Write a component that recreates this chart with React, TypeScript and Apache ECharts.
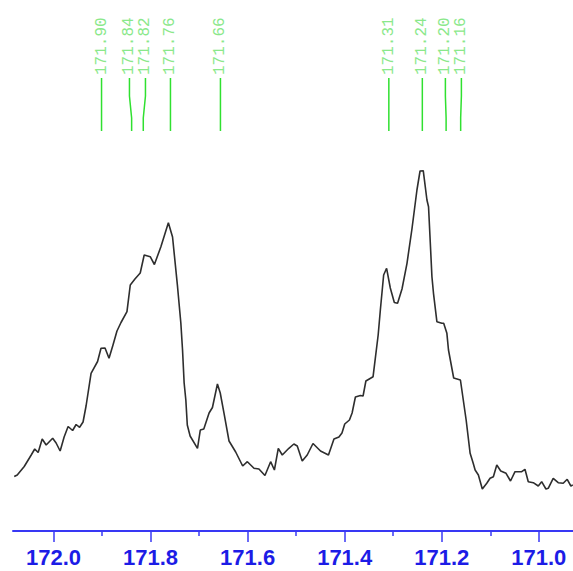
import React, { useEffect, useRef } from "react";
import * as echarts from "echarts";

// Chemical shift (ppm) and intensity (arbitrary units)
const shifts = [
  172.0809, 172.0747, 172.0603, 172.0459, 172.0387, 172.0316, 172.0233, 172.0151, 172.0017, 171.9946,
  171.9863, 171.9781, 171.9699, 171.9606, 171.9534, 171.9462, 171.9391, 171.9329, 171.9226, 171.9092,
  171.9021, 171.8938, 171.8856, 171.8774, 171.8692, 171.8609, 171.8486, 171.8418, 171.8322, 171.8213,
  171.8131, 171.8007, 171.7921, 171.7787, 171.7633, 171.7547, 171.7444, 171.7376, 171.7341, 171.7308,
  171.7273, 171.7243, 171.7185, 171.7033, 171.6975, 171.6903, 171.6794, 171.6725, 171.6622, 171.6564,
  171.6486, 171.6383, 171.6246, 171.6102, 171.6005, 171.5869, 171.5767, 171.5643, 171.5526, 171.5448,
  171.5368, 171.5286, 171.515, 171.5047, 171.4977, 171.4875, 171.4772, 171.4653, 171.4498, 171.4334,
  171.4221, 171.4118, 171.4056, 171.3999, 171.3902, 171.3847, 171.3779, 171.3676, 171.3621, 171.3563,
  171.3415, 171.331, 171.3265, 171.3197, 171.3136, 171.306, 171.2977, 171.291, 171.2819, 171.2716,
  171.2614, 171.2511, 171.2447, 171.2381, 171.2305, 171.2272, 171.2202, 171.217, 171.21, 171.1997,
  171.196, 171.1894, 171.1861, 171.1754, 171.1615, 171.1497, 171.1415, 171.1353, 171.1312, 171.1245,
  171.1164, 171.1072, 171.1004, 171.0936, 171.0866, 171.0784, 171.0675, 171.0583, 171.049, 171.0352,
  171.0285, 171.0217, 171.0114, 171.0011, 170.9941, 170.9853, 170.9806, 170.9703, 170.96, 170.9497,
  170.9415, 170.9339, 170.9298,
];
const intensities = [
  54.5, 56, 64.5, 76, 82, 78.5, 92, 86, 92.7, 88,
  80, 94, 104.5, 100.5, 106.5, 103.7, 109, 125, 157.7, 169.5,
  182.7, 183, 172.7, 186, 200, 208.5, 219.3, 246, 252, 258,
  276, 274.3, 266.5, 284.3, 308.3, 294, 244.3, 208, 181, 148,
  131, 106, 95, 82.7, 101, 102, 118, 123.5, 147, 138,
  117.7, 90, 79, 65, 69.3, 62.7, 62, 55.5, 69.3, 61,
  82.7, 76, 82.7, 87, 85, 70, 76, 87.5, 80, 76,
  92, 94, 98, 107, 111, 118, 134, 135.5, 135, 150,
  154.3, 196, 221, 256, 262.7, 243, 228.5, 227.7, 242, 267.7,
  302, 341, 360, 360.3, 331, 324.3, 254.3, 237.7, 209.3, 207.7,
  207.7, 197.7, 181, 153, 151, 111, 77.7, 68, 61, 56,
  42, 47.7, 52.7, 54.3, 66, 60, 57.7, 50, 59.3, 59.3,
  61.7, 49.3, 48.3, 45, 49.3, 42, 42.7, 52.7, 48.3, 47.7,
  51.7, 45, 46,
];

// Picked peaks
const peakShifts = [171.901, 171.839, 171.815, 171.759, 171.656, 171.309, 171.24, 171.191, 171.161];
const peakLabels = ["171.90", "171.84", "171.82", "171.76", "171.66", "171.31", "171.24", "171.20", "171.16"];

// Axis ticks
const majorTicks = [171.0, 171.2, 171.4, 171.6, 171.8, 172.0];
const minorTicks = [171.1, 171.3, 171.5, 171.7, 171.9];

const X_MIN = 170.92953;
const X_MAX = 172.08345;

function spread(xs: number[], gap: number): number[] {
  const groups: number[][] = [];
  xs.forEach((x, i) => {
    const g = groups[groups.length - 1];
    if (g && x - xs[g[g.length - 1]] < gap) g.push(i);
    else groups.push([i]);
  });
  const out = xs.slice();
  groups.forEach((g) => {
    const mean = g.reduce((a, i) => a + xs[i], 0) / g.length;
    g.forEach((i, k) => {
      out[i] = mean + (k - (g.length - 1) / 2) * gap;
    });
  });
  return out;
}

export default function App() {
  const ref = useRef<HTMLDivElement>(null);
  useEffect(() => {
    if (!ref.current) return;
    const chart = echarts.init(ref.current, undefined, { renderer: "svg" });
    const axisBlue = "#3838f4";
    const option: any = {
      animation: false,
      backgroundColor: "#ffffff",
      grid: { left: 13, right: 0, top: 0, bottom: 40 },
      xAxis: [
        {
          type: "value",
          min: X_MIN,
          max: X_MAX,
          inverse: true,
          position: "bottom",
          axisLine: { lineStyle: { color: axisBlue, width: 2 } },
          axisTick: { customValues: majorTicks, length: 11, lineStyle: { color: axisBlue, width: 1.5 } },
          axisLabel: {
            customValues: majorTicks,
            formatter: (v: number) => v.toFixed(1),
            color: "#1c1ce6",
            fontSize: 22,
            fontWeight: "bold",
            fontFamily: "Liberation Sans, Arial, sans-serif",
            margin: 15,
          },
          splitLine: { show: false },
        },
        {
          type: "value",
          min: X_MIN,
          max: X_MAX,
          inverse: true,
          position: "bottom",
          axisLine: { show: false },
          axisTick: { customValues: minorTicks, length: 5, lineStyle: { color: axisBlue, width: 1.5 } },
          axisLabel: { show: false },
          splitLine: { show: false },
        },
      ],
      yAxis: { type: "value", min: 0, max: 531, show: false },
      series: [
        {
          type: "line",
          xAxisIndex: 0,
          data: shifts.map((s, i) => [s, intensities[i]]),
          symbol: "none",
          lineStyle: { color: "#2e2e2e", width: 1.6 },
        },
        {
          type: "custom",
          xAxisIndex: 0,
          data: peakShifts.map((s) => [s, 0]),
          renderItem: (params: any, api: any) => {
            const i = params.dataIndex;
            const xs = peakShifts.map((s) => api.coord([s, 0])[0]);
            const tops = spread(xs, 16);
            const tx = tops[i];
            const bx = xs[i];
            return {
              type: "group",
              children: [
                {
                  type: "polyline",
                  shape: { points: [[tx, 78], [tx, 96], [bx, 118], [bx, 131]] },
                  style: { stroke: "#30e030", lineWidth: 1.5, fill: null },
                },
                {
                  type: "text",
                  x: tx,
                  y: 75,
                  rotation: Math.PI / 2,
                  style: {
                    text: peakLabels[i],
                    fill: "#8ae88a",
                    font: '16px "Liberation Mono", monospace',
                    align: "left",
                    verticalAlign: "middle",
                  },
                },
              ],
            };
          },
        },
      ],
    };
    chart.setOption(option);
    return () => chart.dispose();
  }, []);
  return (
    <div style={{ position: "fixed", left: 0, top: 0, width: 573, height: 571, background: "#fff" }}>
      <div ref={ref} style={{ width: 573, height: 571 }} />
    </div>
  );
}
